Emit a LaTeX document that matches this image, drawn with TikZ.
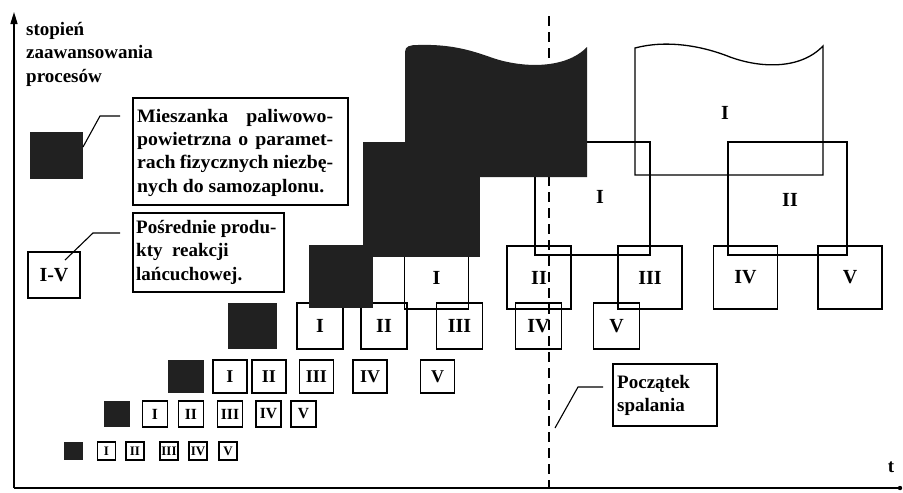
\documentclass[tikz,border=0pt]{standalone}
\usepackage{fontspec}
\setmainfont{Liberation Serif}
\newfontfamily\widefam{Liberation Serif}[FakeStretch=1.04]
\usetikzlibrary{arrows.meta}
\newcommand\txtfont{\bfseries\fontsize{19}{23}\selectfont}
\newcommand\widefont{\widefam\bfseries\fontsize{19}{23}\selectfont}
\newcommand\numA{\bfseries\fontsize{20}{20}\selectfont}
\newcommand\numB{\bfseries\fontsize{18}{18}\selectfont}
\newcommand\numC{\bfseries\fontsize{15.5}{15.5}\selectfont}
\newcommand\numD{\bfseries\fontsize{13}{13}\selectfont}
\begin{document}
\begin{tikzpicture}[x=1pt,y=-1pt,
  ol/.style={draw=black, line width=1.3pt},
  bx/.style={ol, rectangle, inner sep=0pt, font=\numA},
  blk/.style={fill=black!87, draw=none},
  sq/.style={blk, rectangle, inner sep=0pt},
  lg/.style={draw=black, line width=1.2pt, rectangle, inner sep=0pt},
  tl/.style={font=\txtfont, inner sep=0pt, anchor=base west},
  tw/.style={font=\widefont, inner sep=0pt, anchor=base west},
  lead/.style={line width=1.1pt},
  axis/.style={line width=1.5pt},
]
\useasboundingbox (0,0) rectangle (903,493);

% axes
\coordinate (O) at (14,488);
\coordinate (Ytop) at (14,12);
\coordinate (Xend) at (900,488);
\draw[axis, -{Triangle[length=12pt,width=7pt]}] (O) -- (Ytop);
\draw[axis] (O) -- (Xend);
\fill (Xend) circle (2.2pt);
\node[font=\txtfont, inner sep=0pt] (tlab) at (891,467) {t};
\node[tl] (ax1) at (26,35) {stopień};
\node[tl] (ax2) at (26,58.5) {zaawansowania};
\node[tl] (ax3) at (26,82) {procesów};

% dashed line
\coordinate (dTop) at (549,16);
\coordinate (dBot) at (549,488);
\draw[line width=1.3pt, dash pattern=on 10pt off 6pt] (dTop) -- (dBot);

% legend 1
\node[sq, minimum width=53pt, minimum height=47pt] (lsqA) at (56.5,155.5) {};
\node[lg, minimum width=215pt, minimum height=107pt] (boxA) at (240.5,151.5) {};
\node[tw] (tA1) at (137,122) {\makebox[196pt][s]{Mieszanka paliwowo-}};
\node[tw] (tA2) at (137,145.3) {\makebox[196pt][s]{powietrzna o paramet-}};
\node[tw] (tA3) at (137,168.6) {\makebox[196pt][s]{rach fizycznych niezbę-}};
\node[tw] (tA4) at (137,192) {nych do samozaplonu.};
\coordinate (kA1) at (83,147);
\coordinate (kA2) at (100,116);
\coordinate (kA3) at (120,116);
\draw[lead] (kA1) -- (kA2) -- (kA3);

% legend 2
\node[lg, minimum width=52pt, minimum height=46pt, font=\numA] (lsqB) at (54,275) {I-V};
\node[lg, minimum width=151pt, minimum height=79pt] (boxB) at (208.5,252.5) {};
\node[tl] (tB1) at (136,233) {Pośrednie produ-};
\node[tl] (tB2) at (136,256.5) {kty\ \ reakcji};
\node[tl] (tB3) at (136,280) {lańcuchowej.};
\coordinate (kB1) at (65,260);
\coordinate (kB2) at (93,233);
\coordinate (kB3) at (120,233);
\draw[lead] (kB1) -- (kB2) -- (kB3);

% legend 3
\node[lg, minimum width=104pt, minimum height=62pt] (boxC) at (665,395) {};
\node[tl] (tC1) at (617,388) {Początek};
\node[tl] (tC2) at (617,411.5) {spalania};
\coordinate (kC1) at (555,428);
\coordinate (kC2) at (578,387);
\coordinate (kC3) at (603,387);
\draw[lead] (kC1) -- (kC2) -- (kC3);

% row 5
\node[sq, minimum width=19pt, minimum height=18pt] (r5k) at (73.5,451) {};
\foreach \n/\x/\t in {a/106.5/I, b/135/II, c/169/III, d/198/IV, e/228/V}
  \node[bx, minimum width=18pt, minimum height=18pt, font=\numD] (r5\n) at (\x,451) {\t};

% row 4
\node[sq, minimum width=26pt, minimum height=26pt] (r4k) at (117,414) {};
\foreach \n/\x/\t in {a/155/I, b/191/II, c/230/III, d/268.5/IV, e/303.5/V}
  \node[bx, minimum width=25pt, minimum height=26pt, font=\numC] (r4\n) at (\x,414) {\t};

% row 3
\node[sq, minimum width=36pt, minimum height=33pt] (r3k) at (186,376.5) {};
\foreach \n/\x/\t in {a/230/I, b/269/II, c/316.5/III, d/370/IV, e/437.5/V}
  \node[bx, minimum width=34pt, minimum height=33pt, font=\numB] (r3\n) at (\x,376.5) {\t};

% row 2
\node[sq, minimum width=49pt, minimum height=46pt] (r2k) at (252.5,326) {};
\foreach \n/\x/\t in {a/320/I, b/384/II, c/459.5/III, d/538.5/IV, e/616.5/V}
  \node[bx, minimum width=46pt, minimum height=46pt] (r2\n) at (\x,326) {\t};

% level 1
\foreach \n/\x/\t in {a/436.5/I, b/539/II, c/650/III, d/745.5/IV, e/850/V}
  \node[bx, minimum width=64pt, minimum height=63pt] (l1\n) at (\x,277.5) {\t};

% level 2
\node[bx, minimum width=115pt, minimum height=113pt] (l2a) at (592.5,198.5) {};
\node[bx, minimum width=119pt, minimum height=113pt] (l2b) at (787.5,198.5) {};
\node[font=\numA, inner sep=0pt] (l2at) at (600,197) {I};
\node[font=\numA, inner sep=0pt] (l2bt) at (790,200) {II};

% level 3 (white, wavy top)
\draw[ol] (635,175) -- (635,48) .. controls (665,40) and (700,45) .. (730,57)
  .. controls (760,68) and (800,70) .. (823,46) -- (823,175) -- cycle;
\node[font=\numA, inner sep=0pt] (l3at) at (725,113) {I};

% black staircase (drawn over outlines)
\fill[blk] (309,245) rectangle (373,308);
\fill[blk] (363,142) rectangle (480,257);
\fill[blk] (405,177) -- (405,52) .. controls (405,46) and (410,45) .. (418,45)
  .. controls (450,44) and (470,50) .. (490,57)
  .. controls (520,68) and (565,70) .. (587,47) -- (587,177) -- cycle;
\end{tikzpicture}
\end{document}
